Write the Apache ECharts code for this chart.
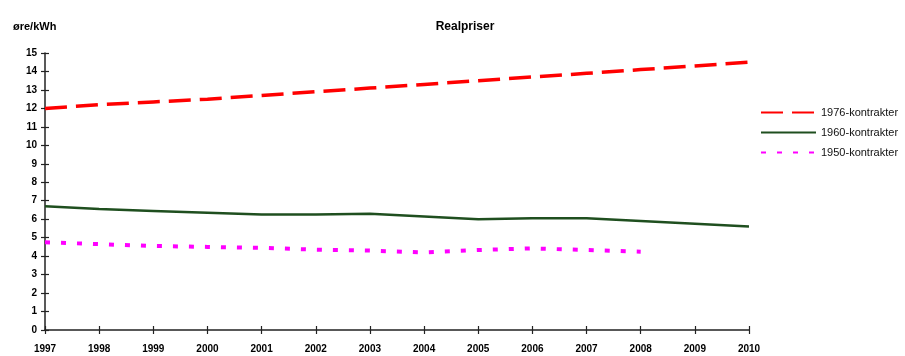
<!DOCTYPE html>
<html><head><meta charset="utf-8">
<script src="https://cdn.jsdelivr.net/npm/echarts@6/dist/echarts.min.js"></script>
<style>html,body{margin:0;padding:0;background:#fff}#c{width:905px;height:356px}</style>
</head><body><div id="c"></div>
<script>
const years = ['1997','1998','1999','2000','2001','2002','2003','2004','2005','2006','2007','2008','2009','2010'];
const yTicks = [0,1,2,3,4,5,6,7,8,9,10,11,12,13,14,15];
const k1976 = [12.0,12.2,12.35,12.5,12.7,12.9,13.1,13.3,13.5,13.7,13.9,14.1,14.3,14.5];
const k1960 = [6.7,6.55,6.45,6.35,6.25,6.25,6.3,6.15,6.0,6.05,6.05,5.9,5.75,5.6];
const k1950 = [4.75,4.65,4.55,4.5,4.45,4.35,4.3,4.2,4.33,4.42,4.33,4.24,null,null];
const names = ['1976-kontrakter','1960-kontrakter','1950-kontrakter'];
const title = 'Realpriser';
const unit = 'øre/kWh';

const chart = echarts.init(document.getElementById('c'));
const ff = 'Liberation Sans, Arial, sans-serif';
const axisCol = '#222';
const gridCfg = {left:45, right:156, top:53, bottom:26};
chart.setOption({
  animation:false,
  textStyle:{fontFamily:ff},
  title:[
    {text:title,left:460,top:16,textAlign:'center',textStyle:{fontSize:12,fontWeight:'bold',color:'#000',fontFamily:ff}},
    {text:unit,left:8,top:16,textStyle:{fontSize:11,fontWeight:'bold',color:'#000',fontFamily:ff}}
  ],
  legend:{
    orient:'vertical', left:755, top:102, itemWidth:55, itemHeight:12, itemGap:9,
    itemStyle:{opacity:0},
    textStyle:{fontSize:11,color:'#111',fontFamily:ff,padding:[4,0,0,0]},
    data:names
  },
  grid:[gridCfg, gridCfg],
  xAxis:[
    {type:'category',data:years,boundaryGap:false,gridIndex:0,
     axisLine:{lineStyle:{color:axisCol,width:1.5}},
     axisTick:{length:4,lineStyle:{color:axisCol,width:1.2}},
     axisLabel:{fontSize:10,fontWeight:'bold',color:'#000',margin:14,interval:0}},
    {type:'category',data:years,boundaryGap:false,gridIndex:1,position:'bottom',
     axisLine:{show:false},axisTick:{inside:true,length:4,lineStyle:{color:axisCol,width:1.2}},
     axisLabel:{show:false}}
  ],
  yAxis:[
    {type:'value',min:0,max:15,interval:1,gridIndex:0,
     axisLine:{show:true,lineStyle:{color:axisCol,width:1.5}},
     axisTick:{show:true,length:4,lineStyle:{color:axisCol,width:1.2}},
     splitLine:{show:false},
     axisLabel:{fontSize:10,fontWeight:'bold',color:'#000',margin:8}},
    {type:'value',min:0,max:15,interval:1,gridIndex:1,
     axisLine:{show:false},axisTick:{show:true,inside:true,length:4,lineStyle:{color:axisCol,width:1.2}},
     splitLine:{show:false},axisLabel:{show:false}}
  ],
  series:[
    {name:names[0],type:'line',data:k1976,symbol:'none',
     lineStyle:{color:'#ff0000',width:3.5,type:[22,9]},itemStyle:{color:'#ff0000'}},
    {name:names[1],type:'line',data:k1960,symbol:'none',
     lineStyle:{color:'#1f4f1f',width:2.5},itemStyle:{color:'#1f4f1f'}},
    {name:names[2],type:'line',data:k1950,symbol:'none',
     lineStyle:{color:'#ff00ff',width:4,type:[5,11]},itemStyle:{color:'#ff00ff'}}
  ]
});
</script></body></html>
